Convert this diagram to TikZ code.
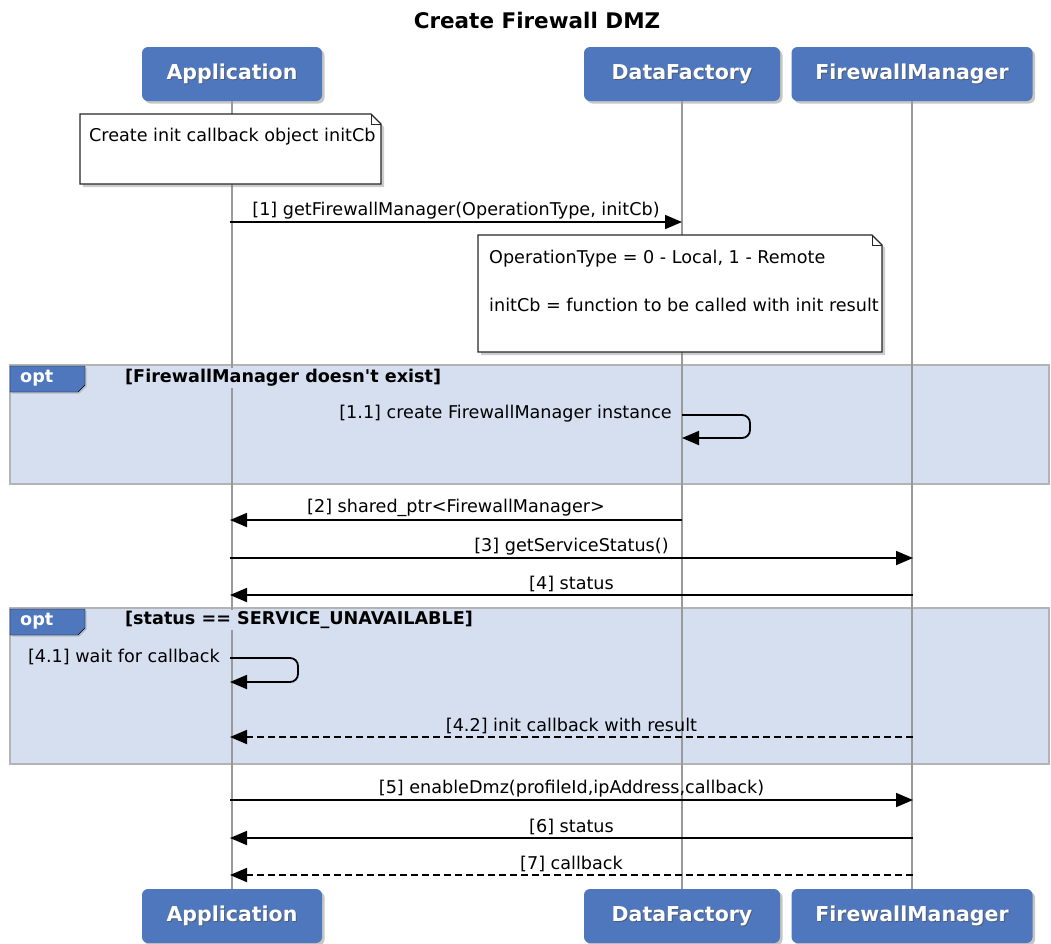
\documentclass[tikz,border=0pt]{standalone}
\usepackage{fontspec}
\setmainfont{DejaVu Sans}
\usetikzlibrary{arrows.meta,shadows}
\definecolor{partblue}{HTML}{4F77BE}
\definecolor{optfill}{HTML}{D6DFF0}
\definecolor{optline}{HTML}{B4B4B4}
\definecolor{lifegray}{HTML}{9A9A9A}
\begin{document}
\begin{tikzpicture}[x=1pt,y=-1pt,
  part/.style={fill=partblue, rounded corners=6pt, minimum height=54pt, inner sep=0pt,
    drop shadow={opacity=0.45,shadow xshift=2.5pt,shadow yshift=-2.5pt}},
  partlbl/.style={text=white, font=\bfseries\fontsize{20.5}{24}\selectfont},
  partshadow/.style={text=black!70, opacity=0.6, font=\bfseries\fontsize{20.5}{24}\selectfont},
  life/.style={draw=lifegray, line width=1.6pt},
  msg/.style={draw=black, line width=1.8pt, -{Triangle[length=17pt,width=14pt]}},
  ret/.style={msg, dash pattern=on 7pt off 4pt},
  lbl/.style={font=\fontsize{17.6}{20}\selectfont, inner sep=1pt},
  notebox/.style={draw=black!85, fill=white, line width=1.2pt,
    drop shadow={opacity=0.4,shadow xshift=3pt,shadow yshift=-3pt}},
  optbox/.style={draw=optline, fill=optfill, line width=1.5pt},
  opttab/.style={fill=partblue, drop shadow={opacity=0.35,shadow xshift=1.5pt,shadow yshift=-1.5pt}},
  optlbl/.style={text=white, font=\bfseries\fontsize{17.6}{20}\selectfont, anchor=west, inner sep=1pt},
  cond/.style={font=\bfseries\fontsize{17.6}{20}\selectfont, fill=optfill, inner sep=1pt, anchor=west}
]
\useasboundingbox (0,0) rectangle (1051,943);

% title
\node[font=\bfseries\fontsize{21.5}{25}\selectfont] (title) at (537,20) {Create Firewall DMZ};

% participants (top)
\node[part, minimum width=180pt] (appT) at (232,74) {};
\node[part, minimum width=196pt] (dfT) at (682,74) {};
\node[part, minimum width=241pt] (fmT) at (912,74) {};
% participants (bottom)
\node[part, minimum width=180pt] (appB) at (232,916) {};
\node[part, minimum width=196pt] (dfB) at (682,916) {};
\node[part, minimum width=241pt] (fmB) at (912,916) {};

\foreach \n in {appT,appB}{
  \node[partshadow] at ([xshift=1pt,yshift=-1pt]\n.center) {Application};
  \node[partlbl] at (\n.center) {Application};}
\foreach \n in {dfT,dfB}{
  \node[partshadow] at ([xshift=1pt,yshift=-1pt]\n.center) {DataFactory};
  \node[partlbl] at (\n.center) {DataFactory};}
\foreach \n in {fmT,fmB}{
  \node[partshadow] at ([xshift=1pt,yshift=-1pt]\n.center) {FirewallManager};
  \node[partlbl] at (\n.center) {FirewallManager};}

% opt fragments
\draw[optbox] (10,365) rectangle (1049,484);
\draw[opttab] (10,366) -- (85,366) -- (85,385) -- (78,392) -- (10,392) -- cycle;
\node[optlbl] (opt1) at (19,378) {opt};

\draw[optbox] (10,608) rectangle (1049,764);
\draw[opttab] (10,609) -- (85,609) -- (85,628) -- (78,635) -- (10,635) -- cycle;
\node[optlbl] (opt2) at (19,621) {opt};

% lifelines
\draw[life] (appT.south) -- (appB.north);
\draw[life] (dfT.south) -- (dfB.north);
\draw[life] (fmT.south) -- (fmB.north);

\node[cond] (c1) at (124,378) {[FirewallManager doesn\textquotesingle t exist]};
\node[cond] (c2) at (124,620) {[status == SERVICE\_UNAVAILABLE]};

% notes
\draw[notebox] (80,114) -- (371,114) -- (381,124) -- (381,184) -- (80,184) -- cycle;
\draw[draw=black!85, line width=1pt] (371,114) -- (371,124) -- (381,124);
\node[lbl, anchor=west] (n1) at (88,137) {Create init callback object initCb};

\draw[notebox] (478,235) -- (872,235) -- (882,245) -- (882,352) -- (478,352) -- cycle;
\draw[draw=black!85, line width=1pt] (872,235) -- (872,245) -- (882,245);
\node[lbl, anchor=west] (n2a) at (488,259) {OperationType = 0 - Local, 1 - Remote};
\node[lbl, anchor=west] (n2b) at (488,305) {initCb = function to be called with init result};

% lifeline coordinates
\coordinate (a1) at (230,222); \coordinate (d1) at (682,222);
\coordinate (d11) at (682,415); \coordinate (d11b) at (682,438);
\coordinate (a2) at (230,520); \coordinate (d2) at (682,520);
\coordinate (a3) at (230,558); \coordinate (f3) at (913,558);
\coordinate (a4) at (230,595); \coordinate (f4) at (913,595);
\coordinate (a41) at (230,658); \coordinate (a41b) at (230,682);
\coordinate (a42) at (230,737); \coordinate (f42) at (913,737);
\coordinate (a5) at (230,800); \coordinate (f5) at (913,800);
\coordinate (a6) at (230,838); \coordinate (f6) at (913,838);
\coordinate (a7) at (230,875); \coordinate (f7) at (913,875);

% messages
\draw[msg] (a1) -- node[lbl, above=1pt] {[1] getFirewallManager(OperationType, initCb)} (d1);
\draw[msg, rounded corners=8pt] (d11) -- (750,415) -- (750,438) -- (d11b);
\node[lbl, anchor=east] (l11) at (673,414) {[1.1] create FirewallManager instance};
\draw[msg] (d2) -- node[lbl, above=1pt] {[2] shared\_ptr<FirewallManager>} (a2);
\draw[msg] (a3) -- node[lbl, above=1pt] {[3] getServiceStatus()} (f3);
\draw[msg] (f4) -- node[lbl, above=1pt] {[4] status} (a4);
\draw[msg, rounded corners=8pt] (a41) -- (298,658) -- (298,682) -- (a41b);
\node[lbl, anchor=east] (l41) at (221,657) {[4.1] wait for callback};
\draw[ret] (f42) -- node[lbl, above=1pt] {[4.2] init callback with result} (a42);
\draw[msg] (a5) -- node[lbl, above=1pt] {[5] enableDmz(profileId,ipAddress,callback)} (f5);
\draw[msg] (f6) -- node[lbl, above=1pt] {[6] status} (a6);
\draw[ret] (f7) -- node[lbl, above=1pt] {[7] callback} (a7);
\end{tikzpicture}
\end{document}
